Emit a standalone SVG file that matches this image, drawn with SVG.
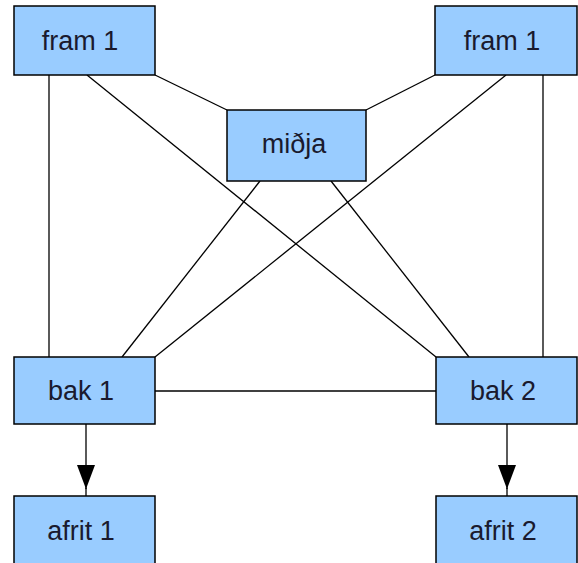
<svg xmlns="http://www.w3.org/2000/svg" width="578" height="563" viewBox="0 0 578 563">
<style>
.box{fill:#99CCFF;stroke:#000;stroke-width:1.5}
.lbl{font-family:"Liberation Sans",Arial,sans-serif;font-size:27px;fill:#1a1a2e;text-anchor:middle}
.ln{stroke:#000;stroke-width:1.3;fill:none}
</style>
<defs>
<marker id="arr" markerWidth="24" markerHeight="18" refX="24" refY="9" orient="auto" markerUnits="userSpaceOnUse" viewBox="0 0 24 18">
<path d="M0,0 L24,9 L0,18 Z" fill="#000"/>
</marker>
</defs>
<rect width="578" height="563" fill="#fff"/>
<g id="connectors">
<line class="ln" x1="49" y1="75" x2="49" y2="357"/>
<line class="ln" x1="543" y1="75" x2="543" y2="357"/>
<line class="ln" x1="155" y1="75" x2="227" y2="110"/>
<line class="ln" x1="435" y1="75" x2="366" y2="110"/>
<line class="ln" x1="87" y1="75" x2="436" y2="357"/>
<line class="ln" x1="506" y1="75" x2="155" y2="357"/>
<line class="ln" x1="260" y1="181" x2="122" y2="357"/>
<line class="ln" x1="331" y1="181" x2="469" y2="357"/>
<line class="ln" x1="155" y1="391" x2="436" y2="391"/>
<line class="ln" x1="86" y1="424" x2="86" y2="489" marker-end="url(#arr)"/>
<line class="ln" x1="507" y1="424" x2="507" y2="489" marker-end="url(#arr)"/>
<line class="ln" x1="86" y1="488" x2="86" y2="496"/>
<line class="ln" x1="507" y1="488" x2="507" y2="496"/>
</g>
<g id="fram1a"><rect class="box" x="14" y="6" width="141" height="69"/><text class="lbl" x="80" y="50">fram 1</text></g>
<g id="fram1b"><rect class="box" x="435" y="6" width="142" height="69"/><text class="lbl" x="502" y="50">fram 1</text></g>
<g id="midja"><rect class="box" x="227" y="110" width="139" height="71"/><text class="lbl" x="294" y="153">miðja</text></g>
<g id="bak1"><rect class="box" x="14" y="357" width="141" height="67"/><text class="lbl" x="81" y="400">bak 1</text></g>
<g id="bak2"><rect class="box" x="436" y="357" width="141" height="67"/><text class="lbl" x="503" y="400">bak 2</text></g>
<g id="afrit1"><rect class="box" x="14" y="496" width="141" height="80"/><text class="lbl" x="81" y="540">afrit 1</text></g>
<g id="afrit2"><rect class="box" x="436" y="496" width="141" height="80"/><text class="lbl" x="503" y="540">afrit 2</text></g>
</svg>
